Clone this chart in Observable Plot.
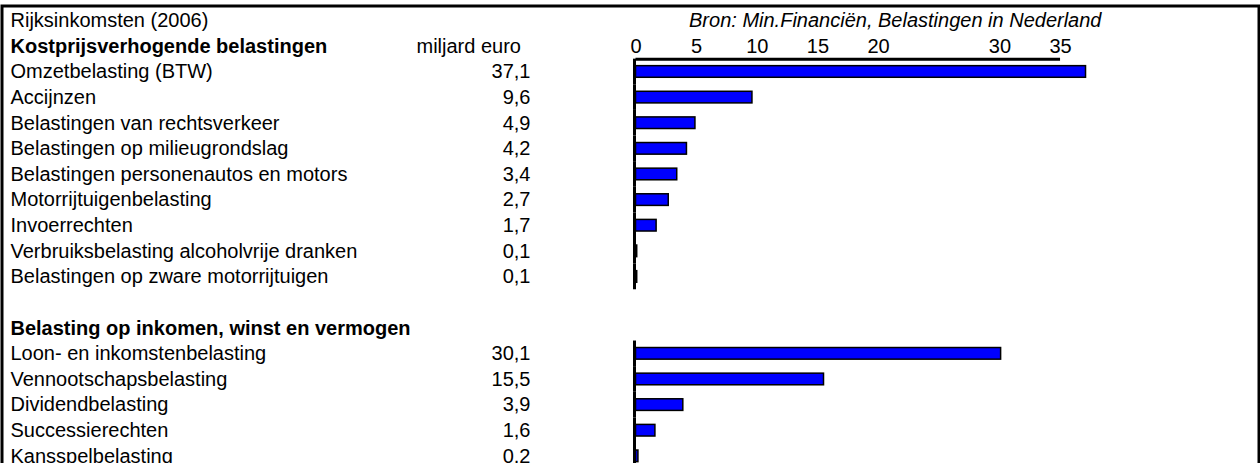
<!DOCTYPE html>
<html>
<head>
<meta charset="utf-8">
<script src="https://cdn.jsdelivr.net/npm/d3@7"></script>
<script src="https://cdn.jsdelivr.net/npm/@observablehq/plot@0.6"></script>
<style>
  html, body { margin: 0; padding: 0; background: #fff; overflow: hidden; }
  #chart svg { display: block; }
</style>
</head>
<body>
<div id="chart"></div>
<script>
// ---- data ----
const chartTitle = "Rijksinkomsten (2006)";
const sourceNote = "Bron: Min.Financiën, Belastingen in Nederland";
const unitLabel = "miljard euro";
const tickValues = [0, 5, 10, 15, 20, 30, 35];

const group1Name = "Kostprijsverhogende belastingen";
const group1Taxes = [
  "Omzetbelasting (BTW)",
  "Accijnzen",
  "Belastingen van rechtsverkeer",
  "Belastingen op milieugrondslag",
  "Belastingen personenautos en motors",
  "Motorrijtuigenbelasting",
  "Invoerrechten",
  "Verbruiksbelasting alcoholvrije dranken",
  "Belastingen op zware motorrijtuigen"
];
const group1Values = [37.1, 9.6, 4.9, 4.2, 3.4, 2.7, 1.7, 0.1, 0.1];

const group2Name = "Belasting op inkomen, winst en vermogen";
const group2Taxes = [
  "Loon- en inkomstenbelasting",
  "Vennootschapsbelasting",
  "Dividendbelasting",
  "Successierechten",
  "Kansspelbelasting"
];
const group2Values = [30.1, 15.5, 3.9, 1.6, 0.2];

// ---- derived tables ----
const items = [
  ...group1Taxes.map((name, i) => ({name, value: group1Values[i]})),
  ...group2Taxes.map((name, i) => ({name, value: group2Values[i]}))
];
const rows = ["#title", "#head1", ...group1Taxes, "#blank", "#head2", ...group2Taxes];
const headers = [{row: "#head1", label: group1Name}, {row: "#head2", label: group2Name}];
const fmt = v => v.toFixed(1).replace(".", ",");

// ---- layout ----
const W = 1260, H = 463;
const rowStep = 25.625, rowTop = 7.4;
const pxPerUnit = 12.13, zeroX = 635.5;
const font = "'Liberation Sans', Arial, Helvetica, sans-serif";
const fs = 20;

const chart = Plot.plot({
  width: W,
  height: H,
  margin: 0,
  style: {fontFamily: font, fontSize: "20px", background: "#fff", color: "#000", overflow: "hidden"},
  x: {type: "linear", domain: [0, 50], range: [zeroX, zeroX + 50 * pxPerUnit], axis: null},
  y: {type: "band", domain: rows, range: [rowTop, rowTop + rows.length * rowStep], padding: 0, round: false, axis: null},
  marks: [
    Plot.frame({stroke: "#000", strokeWidth: 3, insetTop: 5.5, insetLeft: 1.5, insetRight: 1.5, insetBottom: -40}),
    // title row
    Plot.text([chartTitle], {y: () => "#title", text: d => d, frameAnchor: "left", dx: 10, textAnchor: "start", fontSize: fs, fill: "#000"}),
    Plot.text([sourceNote], {y: () => "#title", text: d => d, frameAnchor: "left", dx: 1101, textAnchor: "end", fontSize: fs, fontStyle: "italic", fill: "#000"}),
    // group headers
    Plot.text(headers, {y: "row", text: "label", frameAnchor: "left", dx: 10, textAnchor: "start", fontSize: fs, fontWeight: "bold", fill: "#000"}),
    Plot.text([unitLabel], {y: () => "#head1", text: d => d, frameAnchor: "left", dx: 416, textAnchor: "start", fontSize: fs, fill: "#000"}),
    // tick labels along the x scale
    Plot.text(tickValues, {x: d => d, y: () => "#head1", text: d => String(d), textAnchor: "middle", fontSize: fs, fill: "#000"}),
    Plot.ruleY(["#head1"], {y: d => d, x1: () => 0, x2: () => d3.max(tickValues), stroke: "#000", strokeWidth: 3, dy: rowStep / 2}),
    // item labels and values
    Plot.text(items, {y: "name", text: "name", frameAnchor: "left", dx: 10, textAnchor: "start", fontSize: fs, fill: "#000"}),
    Plot.text(items, {y: "name", text: d => fmt(d.value), frameAnchor: "left", dx: 530, textAnchor: "end", fontSize: fs, fill: "#000"}),
    // vertical axis line per group
    Plot.tickX(items, {x: () => 0, y: "name", stroke: "#000", strokeWidth: 3, dx: -1.5}),
    // bars
    Plot.barX(items, {y: "name", x: "value", fill: "#0000ff", stroke: "#000", strokeWidth: 1.5, insetTop: 7, insetBottom: 7})
  ]
});
document.getElementById("chart").append(chart);
</script>
</body>
</html>
